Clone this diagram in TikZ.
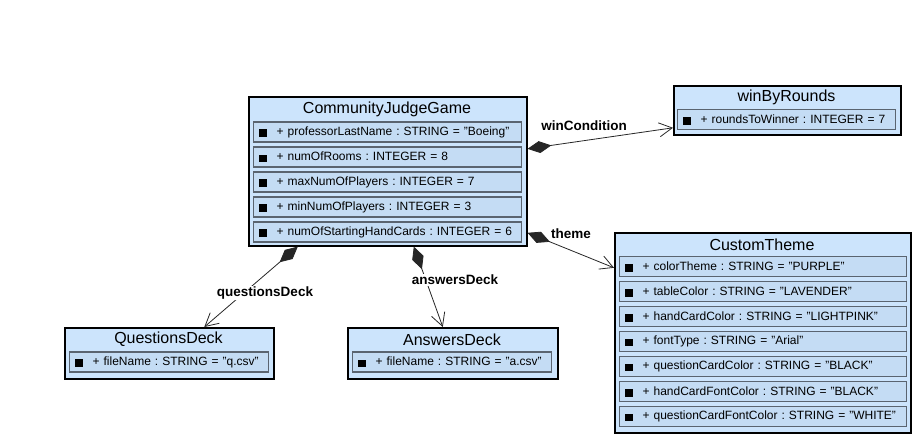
\documentclass[tikz,border=0pt]{standalone}
\usepackage{fontspec}
\setmainfont{Liberation Sans}
\usepackage{xcolor}
\usetikzlibrary{arrows.meta, positioning, calc}
\definecolor{clsblue}{HTML}{CCE4FC}
\definecolor{rowblue}{HTML}{C4DCF4}
\definecolor{rowgray}{HTML}{5A6470}
\newcommand{\sq}{\raisebox{-1.5pt}{\rule{8pt}{7.5pt}}\hspace{10pt}}
\frenchspacing

\begin{document}
\begin{tikzpicture}[
    x=1pt, y=-1pt,
    cls/.style={rectangle, draw=black, line width=1.6pt, fill=clsblue,
                anchor=north west, inner sep=0pt},
    ttl/.style={font=\fontsize{16}{18}\selectfont, inner sep=0pt},
    attr/.style={rectangle, draw=rowgray, line width=1.2pt, fill=rowblue,
                 anchor=west, minimum height=20pt, inner xsep=5pt, inner ysep=0pt,
                 align=left, font=\fontsize{12}{14}\selectfont},
    lbl/.style={font=\bfseries\fontsize{13.5}{15}\selectfont, fill=white, inner sep=1pt},
    comp/.style={{Diamond[length=24pt,width=12pt]}-{Straight Barb[length=13pt,width=14pt]},
                 line width=0.8pt, black!85},
  ]
    \useasboundingbox (0,0) rectangle (919,442);
    % main class
    \node[cls, minimum width=278, minimum height=149] (game) at (248,96) {};
    \node[ttl] (gameT) at (387,109) {CommunityJudgeGame};
    \foreach \k/\y/\t in {1/132/{+ professorLastName : STRING = "Boeing"},
                          2/157/{+ numOfRooms : INTEGER = 8},
                          3/182/{+ maxNumOfPlayers : INTEGER = 7},
                          4/207/{+ minNumOfPlayers : INTEGER = 3},
                          5/232/{+ numOfStartingHandCards : INTEGER = 6}}{
      \node[attr, text width=258] (game\k) at (253,\y) {\mbox{\sq\t}};}
    % win condition
    \node[cls, minimum width=227, minimum height=49] (win) at (673,85) {};
    \node[ttl] (winT) at (786.5,97) {winByRounds};
    \node[attr, text width=208] (win1) at (677,119.5) {\mbox{\sq+ roundsToWinner : INTEGER = 7}};
    % theme
    \node[cls, minimum width=296, minimum height=200] (theme) at (614,232) {};
    \node[ttl] (themeT) at (762,244.5) {CustomTheme};
    \foreach \k/\y/\t in {1/266.5/{+ colorTheme : STRING = "PURPLE"},
                          2/291.5/{+ tableColor : STRING = "LAVENDER"},
                          3/316.5/{+ handCardColor : STRING = "LIGHTPINK"},
                          4/341.5/{+ fontType : STRING = "Arial"},
                          5/366.5/{+ questionCardColor : STRING = "BLACK"},
                          6/391.5/{+ handCardFontColor : STRING = "BLACK"},
                          7/416.5/{+ questionCardFontColor : STRING = "WHITE"}}{
      \node[attr, text width=277] (theme\k) at (619,\y) {\mbox{\sq\t}};}
    % decks
    \node[cls, minimum width=209, minimum height=51] (qdeck) at (64,327) {};
    \node[ttl] (qdeckT) at (168.5,339.5) {QuestionsDeck};
    \node[attr, text width=189] (qdeck1) at (69,362) {\mbox{\sq+ fileName : STRING = "q.csv"}};
    \node[cls, minimum width=210, minimum height=51] (adeck) at (347,327) {};
    \node[ttl] (adeckT) at (452,339.5) {AnswersDeck};
    \node[attr, text width=189] (adeck1) at (352,362) {\mbox{\sq+ fileName : STRING = "a.csv"}};
    % compositions
    \draw[comp] ([yshift=22.5]game.east) -- ([yshift=-17.5]win.west);
    \draw[comp] ([yshift=-61.5]game.east) -- ([yshift=65]theme.west);
    \draw[comp] ([xshift=-90]game.south) -- ([xshift=35]qdeck.north);
    \draw[comp] ([xshift=26]game.south) -- ([xshift=-10]adeck.north);
    \node[lbl] (lwin) at (584,126) {winCondition};
    \node[lbl] (ltheme) at (571,234) {theme};
    \node[lbl] (lq) at (265,293) {questionsDeck};
    \node[lbl] (la) at (455,280) {answersDeck};
  \end{tikzpicture}
\end{document}
